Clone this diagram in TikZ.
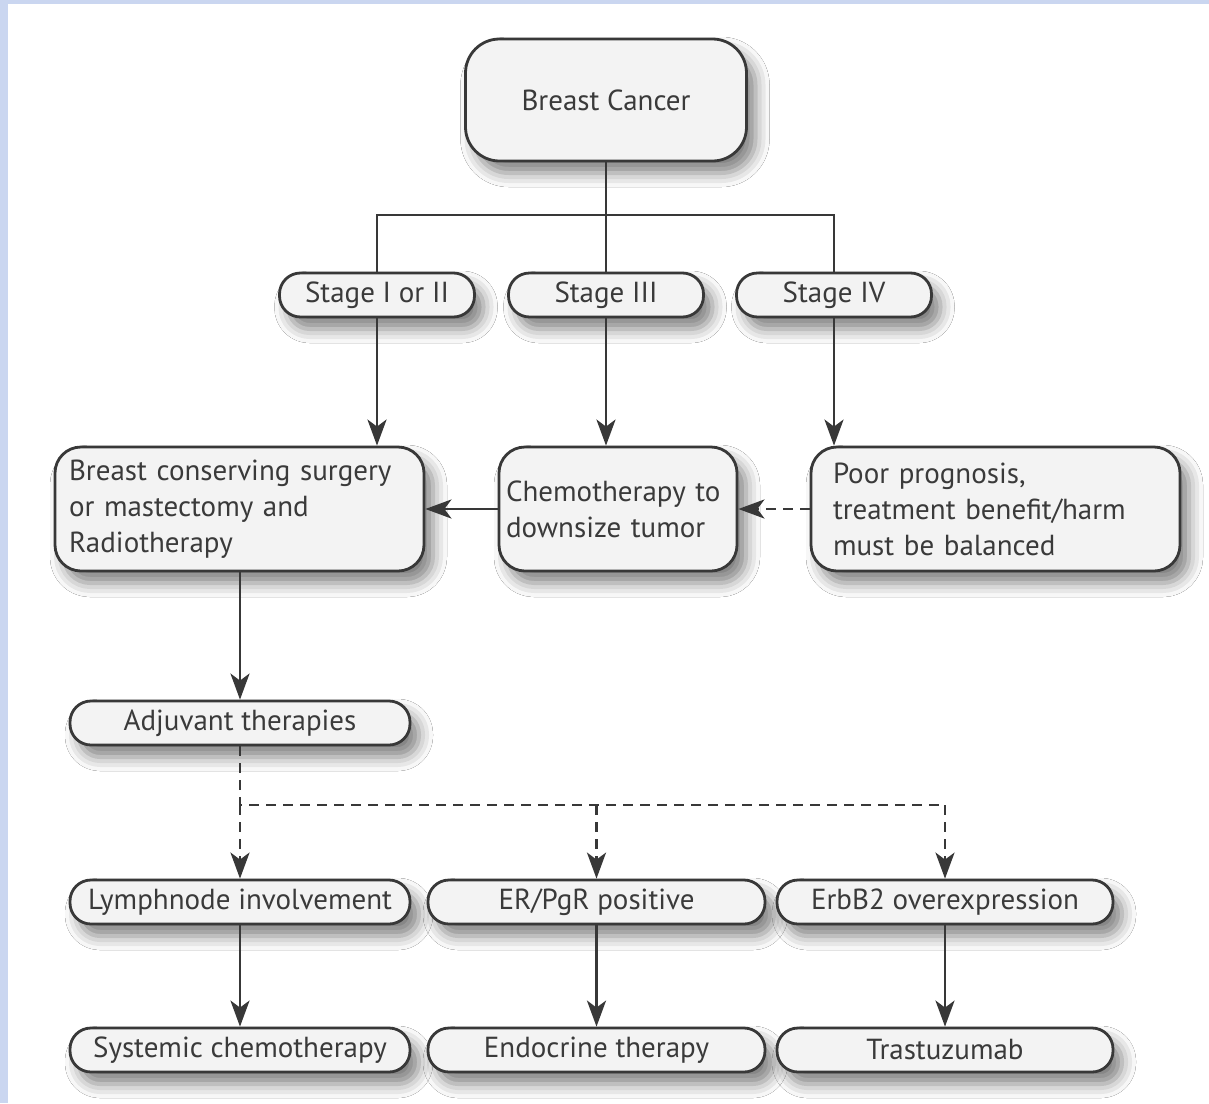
\documentclass[tikz,border=0pt]{standalone}
\usepackage{fontspec}
\setmainfont{PT Sans}
\usetikzlibrary{arrows.meta,shadows.blur}
\definecolor{boxfill}{HTML}{F3F3F3}
\definecolor{edgec}{HTML}{383838}
\definecolor{txt}{HTML}{3A3A3A}
\definecolor{bluebg}{HTML}{CAD6F0}
\begin{document}
\begin{tikzpicture}[x=1pt,y=-1pt,
  box/.style={draw=edgec, line width=2.8pt, fill=boxfill, rounded corners=26pt,
    text=txt, font=\fontsize{29}{36}\selectfont, inner sep=0pt,
    blur shadow={shadow xshift=9pt, shadow yshift=-12pt, shadow blur radius=14pt, shadow opacity=50}},
  pill/.style={box, rounded corners=21pt, minimum height=44pt},
  conn/.style={draw=edgec, line width=2.8pt},
  ar/.style={conn, -{Stealth[length=26pt,width=19pt,inset=7pt]}},
  dsh/.style={dash pattern=on 10pt off 7pt}
]
\useasboundingbox (0,0) rectangle (1209,1103);
\fill[bluebg] (0,0) rectangle (1209,1103);
\fill[white] (8,4) rectangle (1209,1103);

\node[box, rounded corners=34pt, minimum width=281pt, minimum height=122pt] (bc) at (606,100) {Breast Cancer};

\node[pill, minimum width=195pt] (s12) at (377,295) {Stage I or II};
\node[pill, minimum width=195pt] (s3) at (606,295) {Stage III};
\node[pill, minimum width=195pt] (s4) at (834,295) {Stage IV};

\node[box, minimum width=369pt, minimum height=124pt, text width=341pt, align=left] (bcs) at (239.5,509)
  {Breast conserving surgery\\or mastectomy and\\Radiotherapy};
\node[box, minimum width=238pt, minimum height=124pt, text width=224pt, align=left] (chemo) at (618,509)
  {Chemotherapy to\\downsize tumor};
\node[box, minimum width=369pt, minimum height=124pt, text width=325pt, align=left] (poor) at (995.5,509)
  {Poor prognosis,\\treatment benefit/harm\\must be balanced};

\node[pill, minimum width=340pt] (adj) at (240,723) {Adjuvant therapies};

\node[pill, minimum width=340pt] (lym) at (240,902) {Lymphnode involvement};
\node[pill, minimum width=337pt] (er) at (596.5,902) {ER/PgR positive};
\node[pill, minimum width=336pt] (erb) at (945,902) {ErbB2 overexpression};

\node[pill, minimum width=340pt] (sys) at (240,1050) {Systemic chemotherapy};
\node[pill, minimum width=337pt] (endo) at (596.5,1050) {Endocrine therapy};
\node[pill, minimum width=336pt] (tra) at (945,1050) {Trastuzumab};

\coordinate (hl) at (377,215);
\coordinate (dj) at (240,805);

\draw[conn] (bc.south) -- (s3.north);
\draw[conn] (s12.north) -- (s12.north |- hl) -- (s4.north |- hl) -- (s4.north);

\draw[ar] (s12.south) -- (s12.south |- bcs.north);
\draw[ar] (s3.south) -- (s3.south |- chemo.north);
\draw[ar] (s4.south) -- (s4.south |- poor.north);

\draw[ar] (chemo.west) -- (bcs.east);
\draw[ar, dsh] (poor.west) -- (chemo.east);

\draw[ar] (bcs.south -| adj) -- (adj.north);

\draw[conn, dsh] (adj.south) -- (dj) -- (erb.north |- dj);
\draw[ar, dsh] (dj) -- (lym.north);
\draw[ar, dsh] (er.north |- dj) -- (er.north);
\draw[ar, dsh] (erb.north |- dj) -- (erb.north);

\draw[ar] (lym.south) -- (sys.north);
\draw[ar] (er.south) -- (endo.north);
\draw[ar] (erb.south) -- (tra.north);
\end{tikzpicture}
\end{document}
